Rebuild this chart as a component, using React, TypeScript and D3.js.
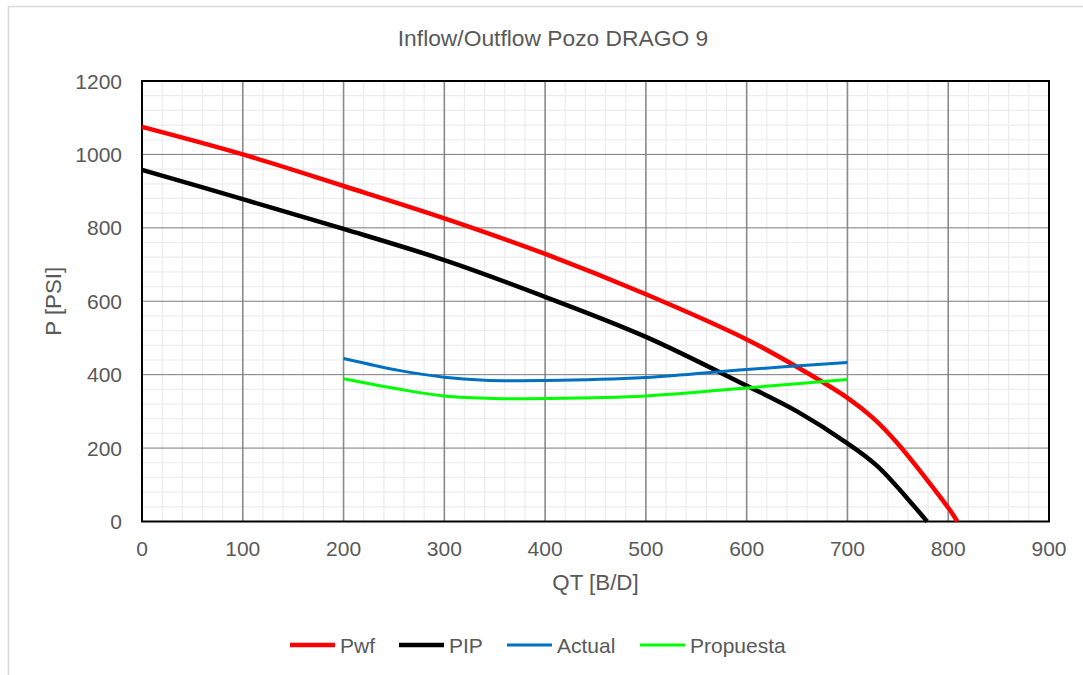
import React from "react";
import * as d3 from "d3";

const title = "Inflow/Outflow Pozo DRAGO 9";
const xTicks = [0, 100, 200, 300, 400, 500, 600, 700, 800, 900];
const yTicks = [0, 200, 400, 600, 800, 1000, 1200];

const pwfQ = [0, 100, 200, 300, 400, 500, 600, 650, 700, 725, 750, 802, 809];
const pwfP = [1075, 1000, 914, 826, 729, 619, 496, 421, 337, 283, 212, 30, 0];

const pipQ = [0, 100, 200, 300, 400, 500, 600, 650, 700, 730, 779];
const pipP = [958, 878, 797, 712, 612, 503, 370, 300, 213, 150, 0];

const actualQ = [200, 256, 300, 340, 400, 500, 600, 700];
const actualP = [444, 411, 393, 385, 384, 392, 414, 433];

const propQ = [200, 256, 300, 350, 400, 500, 600, 700];
const propP = [389, 360, 342, 335, 335, 342, 364, 387];

const series = [
  { name: "Pwf", q: pwfQ, p: pwfP, color: "#ff0000", width: 4.5 },
  { name: "PIP", q: pipQ, p: pipP, color: "#000000", width: 4.5 },
  { name: "Actual", q: actualQ, p: actualP, color: "#0070c0", width: 3 },
  { name: "Propuesta", q: propQ, p: propP, color: "#00ff00", width: 3 },
];

export default function App() {
  const W = 1083, H = 675;
  const left = 142, right = 1049, top = 81, bottom = 521.5;
  const x = d3.scaleLinear().domain([0, 900]).range([left, right]);
  const y = d3.scaleLinear().domain([0, 1200]).range([bottom, top]);
  const font = "'Liberation Sans', Arial, sans-serif";
  const textColor = "#595959";

  const minorX = d3.range(0, 901, 20).filter((v) => v % 100 !== 0);
  const minorY = d3.range(0, 1201, 40).filter((v) => v % 200 !== 0);

  const line = (q: number[], p: number[]) =>
    d3
      .line<number>()
      .x((_, i) => x(q[i]))
      .y((_, i) => y(p[i]))
      .curve(d3.curveCatmullRom.alpha(0.5))(q) as string;

  const legendItems = [
    { name: "Pwf", x1: 290, color: "#ff0000", w: 4.5 },
    { name: "PIP", x1: 399, color: "#000000", w: 4.5 },
    { name: "Actual", x1: 507, color: "#0070c0", w: 3 },
    { name: "Propuesta", x1: 640, color: "#00ff00", w: 3 },
  ];

  return (
    <svg width={W} height={H} style={{ position: "absolute", left: 0, top: 0 }}>
      <rect x={0} y={0} width={W} height={H} fill="#fff" />
      <rect x={8.5} y={6.5} width={W + 20} height={H + 20} fill="#fff" stroke="#d9d9d9" strokeWidth={1.5} />
      <text x={553} y={46} textAnchor="middle" fontFamily={font} fontSize={22.8} fill={textColor}>
        {title}
      </text>
      {minorX.map((v) => (
        <line key={"mx" + v} x1={x(v)} x2={x(v)} y1={top} y2={bottom} stroke="#ececec" strokeWidth={1.2} />
      ))}
      {minorY.map((v) => (
        <line key={"my" + v} x1={left} x2={right} y1={y(v)} y2={y(v)} stroke="#ececec" strokeWidth={1.2} />
      ))}
      {xTicks.slice(1, -1).map((v) => (
        <line key={"Mx" + v} x1={x(v)} x2={x(v)} y1={top} y2={bottom} stroke="#8a8a8a" strokeWidth={1.6} />
      ))}
      {yTicks.slice(1, -1).map((v) => (
        <line key={"My" + v} x1={left} x2={right} y1={y(v)} y2={y(v)} stroke="#7a7a7a" strokeWidth={1} />
      ))}
      <rect x={left} y={top} width={right - left} height={bottom - top} fill="none" stroke="#000" strokeWidth={2} />
      {series.map((s) => (
        <path key={s.name} d={line(s.q, s.p)} fill="none" stroke={s.color} strokeWidth={s.width} strokeLinejoin="round" />
      ))}
      {xTicks.map((v) => (
        <text key={"xt" + v} x={x(v)} y={556} textAnchor="middle" fontFamily={font} fontSize={21} fill={textColor}>
          {v}
        </text>
      ))}
      {yTicks.map((v) => (
        <text key={"yt" + v} x={122} y={y(v) + 7.5} textAnchor="end" fontFamily={font} fontSize={21} fill={textColor}>
          {v}
        </text>
      ))}
      <text x={(left + right) / 2} y={590} textAnchor="middle" fontFamily={font} fontSize={22.3} fill={textColor}>
        QT [B/D]
      </text>
      <text
        transform={`translate(61, ${(top + bottom) / 2}) rotate(-90)`}
        textAnchor="middle"
        fontFamily={font}
        fontSize={22.3}
        fill={textColor}
      >
        P [PSI]
      </text>
      {legendItems.map((it) => (
        <g key={it.name}>
          <line x1={it.x1} x2={it.x1 + 45} y1={645} y2={645} stroke={it.color} strokeWidth={it.w} />
          <text x={it.x1 + 50} y={652.5} fontFamily={font} fontSize={21} fill={textColor}>
            {it.name}
          </text>
        </g>
      ))}
    </svg>
  );
}
